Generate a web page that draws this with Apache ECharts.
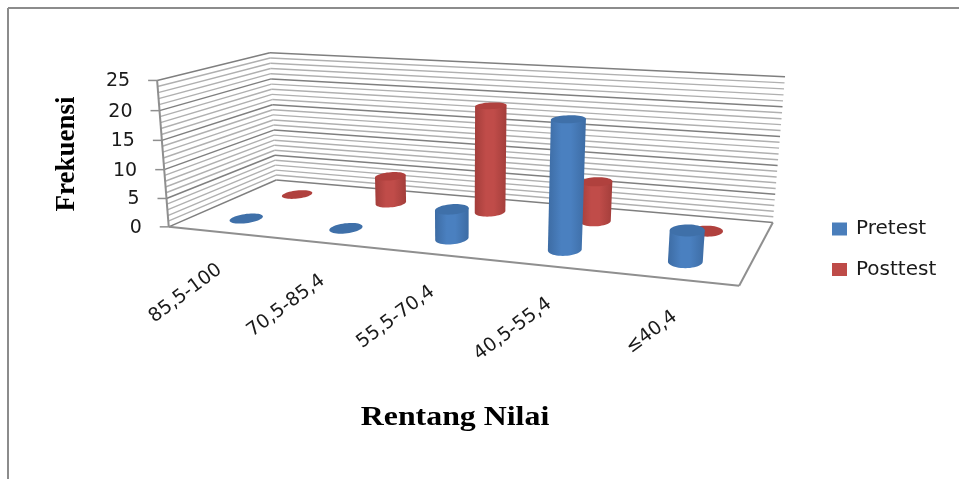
<!DOCTYPE html>
<html><head><meta charset="utf-8">
<style>html,body{margin:0;padding:0;background:#fff}#c{width:959px;height:479px}</style>
<script src="https://cdn.jsdelivr.net/npm/echarts@6/dist/echarts.min.js"></script>
</head><body><div id="c"></div>
<script>
const categories = ['85,5-100','70,5-85,4','55,5-70,4','40,5-55,4','≤40,4'];
const pretest = [0,0,5,21,5];
const posttest = [0,5,19,7,0];
const yTicks = [0,5,10,15,20,25];
const seriesNames = ['Pretest','Posttest'];
const yMax = 25;

// ---- 3D view: fit a projective camera to the corners of the chart box ----
const boxFit = [
  [0,0,0, 169,227],[0,0,1, 157,80],[0,1,0, 276,180],[0,1,1, 270,53],
  [1,1,0, 773,222],[1,1,1, 785,77],[1,0,0, 739,286]
];
function fitCamera(pts){
  const A=[],b=[];
  pts.forEach(([u,v,h,x,y])=>{
    x/=1000;y/=1000;
    A.push([u,v,h,1,0,0,0,0,-x*u,-x*v,-x*h]);b.push(x);
    A.push([0,0,0,0,u,v,h,1,-y*u,-y*v,-y*h]);b.push(y);
  });
  const n=11,M=[];
  for(let i=0;i<n;i++){M[i]=[];for(let j=0;j<n;j++){let s=0;for(let r=0;r<A.length;r++)s+=A[r][i]*A[r][j];M[i][j]=s;}
    let s=0;for(let r=0;r<A.length;r++)s+=A[r][i]*b[r];M[i][n]=s;}
  for(let c=0;c<n;c++){let p=c;for(let r=c+1;r<n;r++)if(Math.abs(M[r][c])>Math.abs(M[p][c]))p=r;
    [M[c],M[p]]=[M[p],M[c]];
    for(let r=0;r<n;r++)if(r!==c){const f=M[r][c]/M[c][c];for(let k=c;k<=n;k++)M[r][k]-=f*M[c][k];}}
  return M.map((row,i)=>row[n]/row[i]);
}
const cam=fitCamera(boxFit);
function project(u,v,h){ // u: category units, v: depth 0..1, h: value
  const U=u/categories.length,H=h/yMax;
  const w=cam[8]*U+cam[9]*v+cam[10]*H+1;
  return [1000*(cam[0]*U+cam[1]*v+cam[2]*H+cam[3])/w,1000*(cam[4]*U+cam[5]*v+cam[6]*H+cam[7])/w];
}
// read category band + value through the chart's own (hidden) axes
function toWorld(params,api,cat,val){
  const r=params.coordSys,pt=api.coord([cat,val]);
  return [(pt[0]-r.x)/r.width*categories.length,(r.y+r.height-pt[1])/r.height*yMax];
}
const n=categories.length;
const RU=0.135,RV=0.095;
const palette={
  Pretest:{edge:'#3d6ca4',mid:'#4a80c0',cap:'#3f70a9'},
  Posttest:{edge:'#a33e3b',mid:'#c04c49',cap:'#b0413e'}
};
function cylinderSeries(name,values,depth,z){
  const col=palette[name];
  return {name,type:'custom',coordinateSystem:'cartesian2d',z,clip:false,silent:true,
    itemStyle:{color:name==='Pretest'?'#4a7ebb':'#be4b48'},
    data:values.map((v,i)=>[i,v]),
    renderItem(params,api){
      const [u,h]=toWorld(params,api,api.value(0),api.value(1));
      const ring=hh=>{const out=[];for(let a=0;a<48;a++){const t=a/48*2*Math.PI;out.push(project(u+RU*Math.cos(t),depth+RV*Math.sin(t),hh));}return out;};
      const base=ring(0),top=ring(h),children=[];
      if(h>0){
        let L=0,R=0;base.forEach((p,i)=>{if(p[0]<base[L][0])L=i;if(p[0]>base[R][0])R=i;});
        let TL=0,TR=0;top.forEach((p,i)=>{if(p[0]<top[TL][0])TL=i;if(p[0]>top[TR][0])TR=i;});
        const lower=[];for(let i=R;;i=(i+1)%48){lower.push(base[i]);if(i===L)break;}
        // the near side of the ring is the one with the larger screen y
        const upper=[];for(let i=L;;i=(i+1)%48){upper.push(base[i]);if(i===R)break;}
        const avg=a=>a.reduce((s,p)=>s+p[1],0)/a.length;
        const arc=avg(lower)>avg(upper)?lower:upper.slice().reverse();
        children.push({type:'polygon',shape:{points:[top[TL],top[TR]].concat(arc)},
          style:{fill:new echarts.graphic.LinearGradient(0,0,1,0,[
            {offset:0,color:col.edge},{offset:.35,color:col.mid},{offset:.6,color:col.mid},{offset:1,color:col.edge}])}});
      }
      children.push({type:'polygon',shape:{points:top},style:{fill:col.cap}});
      return {type:'group',children};
    }};
}
const wallLevels=[];for(let i=0;i<=yMax;i++)wallLevels.push([0,i]);
const line=(a,b,stroke,lw)=>({type:'line',shape:{x1:a[0],y1:a[1],x2:b[0],y2:b[1]},style:{stroke,lineWidth:lw}});
const axisGrey='#8f8f8f';

const option={
  animation:false,backgroundColor:'#fff',
  grid:{left:200,right:200,top:80,bottom:252,show:false},
  xAxis:{type:'category',data:categories,show:false},
  yAxis:{type:'value',min:0,max:yMax,interval:5,show:false,splitLine:{show:false}},
  legend:{show:true,data:seriesNames,orient:'vertical',left:827,top:214,itemWidth:15,itemHeight:13,itemGap:20.5,icon:'rect',
    textStyle:{fontFamily:'DejaVu Sans',fontSize:20,color:'#1a1a1a',padding:[0,0,0,4]}},
  graphic:[
    {type:'line',silent:true,shape:{x1:8,y1:8,x2:959,y2:8},style:{stroke:'#8c8c8c',lineWidth:2}},
    {type:'line',silent:true,shape:{x1:8,y1:8,x2:8,y2:479},style:{stroke:'#8c8c8c',lineWidth:2}},
    {type:'text',silent:true,x:67,y:154,rotation:Math.PI/2,style:{text:'Frekuensi',align:'center',verticalAlign:'middle',font:'bold 27px "Liberation Serif"',fill:'#000'}},
    {type:'text',silent:true,x:455,y:418,scaleX:1.18,style:{text:'Rentang Nilai',align:'center',verticalAlign:'middle',font:'bold 27px "Liberation Serif"',fill:'#000'}}
  ],
  series:[
    {name:'walls',type:'custom',coordinateSystem:'cartesian2d',z:1,clip:false,silent:true,data:wallLevels,
      renderItem(params,api){
        const [,h]=toWorld(params,api,0,api.value(1));
        const major=h%5<1e-6||5-h%5<1e-6;
        const s=major?'#7f7f7f':'#b0b0b0',lw=major?1.5:1.4;
        return {type:'group',children:[
          line(project(0,0,h),project(0,1,h),s,lw),
          line(project(0,1,h),project(n,1,h),s,lw)
        ]};
      }},
    {name:'frame',type:'custom',coordinateSystem:'cartesian2d',z:2,clip:false,silent:true,data:[[0,0]],
      renderItem(){
        return {type:'group',children:[
          line(project(0,0,0),project(0,0,yMax),axisGrey,2),
          line(project(0,0,0),project(n,0,0),axisGrey,2),
          line(project(n,0,0),project(n,1,0),axisGrey,2)
        ]};
      }},
    {name:'yTickLabels',type:'custom',coordinateSystem:'cartesian2d',z:2,clip:false,silent:true,data:yTicks.map(t=>[0,t]),
      renderItem(params,api){
        const [,h]=toWorld(params,api,0,api.value(1));
        const p=project(0,0,h);
        return {type:'group',children:[
          line([p[0]-9,p[1]],p,axisGrey,1.5),
          {type:'text',x:p[0]-27,y:p[1]+1,style:{text:String(api.value(1)),align:'right',verticalAlign:'middle',font:'19px "DejaVu Sans"',fill:'#1a1a1a'}}
        ]};
      }},
    {name:'xTickLabels',type:'custom',coordinateSystem:'cartesian2d',z:2,clip:false,silent:true,data:categories.map((c,i)=>[i,0]),
      renderItem(params,api){
        const i=api.value(0),[u]=toWorld(params,api,i,0),p=project(u,0,0);
        return {type:'text',x:p[0]+2,y:p[1]+36,rotation:0.64,style:{text:categories[i],align:'right',verticalAlign:'middle',font:'19px "DejaVu Sans"',fill:'#1a1a1a'}};
      }},
    cylinderSeries('Posttest',posttest,0.75,3),
    cylinderSeries('Pretest',pretest,0.25,4)
  ]
};
const chart=echarts.init(document.getElementById('c'),null,{renderer:'canvas'});
chart.setOption(option);
</script></body></html>
